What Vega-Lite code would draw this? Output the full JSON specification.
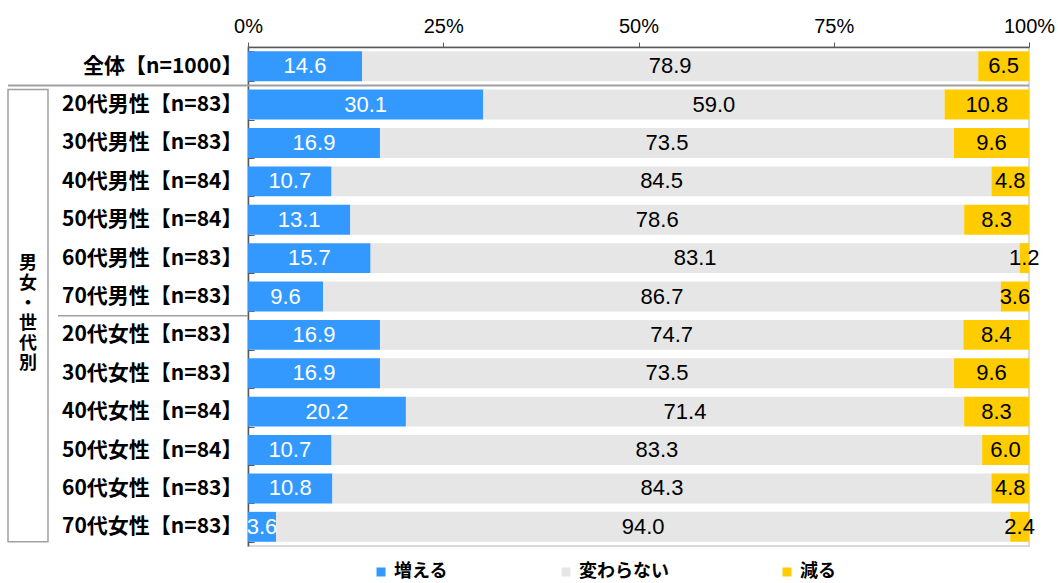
{
  "$schema": "https://vega.github.io/schema/vega-lite/v6.json",
  "autosize": {"type": "none"},
  "padding": {"left": 248, "top": 47, "right": 29, "bottom": 37},
  "width": 781,
  "height": 499,
  "config": {
    "view": {"stroke": "#d9d9d9", "strokeWidth": 2},
    "font": "Noto Sans CJK JP"
  },
  "datasets": {
    "bars": [
      {"label": "全体【n=1000】", "cat": "増える", "v": 14.6},
      {"label": "全体【n=1000】", "cat": "変わらない", "v": 78.9},
      {"label": "全体【n=1000】", "cat": "減る", "v": 6.5},
      {"label": "20代男性【n=83】", "cat": "増える", "v": 30.1},
      {"label": "20代男性【n=83】", "cat": "変わらない", "v": 59.0},
      {"label": "20代男性【n=83】", "cat": "減る", "v": 10.8},
      {"label": "30代男性【n=83】", "cat": "増える", "v": 16.9},
      {"label": "30代男性【n=83】", "cat": "変わらない", "v": 73.5},
      {"label": "30代男性【n=83】", "cat": "減る", "v": 9.6},
      {"label": "40代男性【n=84】", "cat": "増える", "v": 10.7},
      {"label": "40代男性【n=84】", "cat": "変わらない", "v": 84.5},
      {"label": "40代男性【n=84】", "cat": "減る", "v": 4.8},
      {"label": "50代男性【n=84】", "cat": "増える", "v": 13.1},
      {"label": "50代男性【n=84】", "cat": "変わらない", "v": 78.6},
      {"label": "50代男性【n=84】", "cat": "減る", "v": 8.3},
      {"label": "60代男性【n=83】", "cat": "増える", "v": 15.7},
      {"label": "60代男性【n=83】", "cat": "変わらない", "v": 83.1},
      {"label": "60代男性【n=83】", "cat": "減る", "v": 1.2},
      {"label": "70代男性【n=83】", "cat": "増える", "v": 9.6},
      {"label": "70代男性【n=83】", "cat": "変わらない", "v": 86.7},
      {"label": "70代男性【n=83】", "cat": "減る", "v": 3.6},
      {"label": "20代女性【n=83】", "cat": "増える", "v": 16.9},
      {"label": "20代女性【n=83】", "cat": "変わらない", "v": 74.7},
      {"label": "20代女性【n=83】", "cat": "減る", "v": 8.4},
      {"label": "30代女性【n=83】", "cat": "増える", "v": 16.9},
      {"label": "30代女性【n=83】", "cat": "変わらない", "v": 73.5},
      {"label": "30代女性【n=83】", "cat": "減る", "v": 9.6},
      {"label": "40代女性【n=84】", "cat": "増える", "v": 20.2},
      {"label": "40代女性【n=84】", "cat": "変わらない", "v": 71.4},
      {"label": "40代女性【n=84】", "cat": "減る", "v": 8.3},
      {"label": "50代女性【n=84】", "cat": "増える", "v": 10.7},
      {"label": "50代女性【n=84】", "cat": "変わらない", "v": 83.3},
      {"label": "50代女性【n=84】", "cat": "減る", "v": 6.0},
      {"label": "60代女性【n=83】", "cat": "増える", "v": 10.8},
      {"label": "60代女性【n=83】", "cat": "変わらない", "v": 84.3},
      {"label": "60代女性【n=83】", "cat": "減る", "v": 4.8},
      {"label": "70代女性【n=83】", "cat": "増える", "v": 3.6},
      {"label": "70代女性【n=83】", "cat": "変わらない", "v": 94.0},
      {"label": "70代女性【n=83】", "cat": "減る", "v": 2.4}
    ],
    "groups": [
      {"first": "20代男性【n=83】", "split": "20代女性【n=83】", "last": "70代女性【n=83】", "name": "男\n女\n・\n世\n代\n別"}
    ]
  },
  "layer": [
    {
      "data": {"name": "bars"},
      "mark": {"type": "bar"},
      "encoding": {
        "y": {
          "field": "label", "type": "nominal",
          "sort": ["全体【n=1000】", "20代男性【n=83】", "30代男性【n=83】", "40代男性【n=84】", "50代男性【n=84】", "60代男性【n=83】", "70代男性【n=83】", "20代女性【n=83】", "30代女性【n=83】", "40代女性【n=84】", "50代女性【n=84】", "60代女性【n=83】", "70代女性【n=83】"],
          "scale": {
            "domain": ["全体【n=1000】", "20代男性【n=83】", "30代男性【n=83】", "40代男性【n=84】", "50代男性【n=84】", "60代男性【n=83】", "70代男性【n=83】", "20代女性【n=83】", "30代女性【n=83】", "40代女性【n=84】", "50代女性【n=84】", "60代女性【n=83】", "70代女性【n=83】"],
            "paddingInner": 0.22, "paddingOuter": 0.11
          },
          "axis": {
            "title": null, "domainColor": "#595959", "domainWidth": 1.5,
            "ticks": true, "tickBand": "extent", "tickSize": -6, "tickColor": "#595959",
            "labelFont": "Noto Sans CJK JP", "labelFontWeight": "bold", "labelFontSize": 21,
            "labelColor": "#000000", "labelPadding": 12, "labelLimit": 0
          }
        },
        "x": {
          "field": "v", "type": "quantitative", "stack": "normalize",
          "scale": {"domain": [0, 1]},
          "axis": {
            "title": null, "orient": "top", "values": [0, 0.25, 0.5, 0.75, 1], "format": ".0%",
            "grid": false, "labelFlush": false, "domainColor": "#595959", "domainWidth": 1.5,
            "tickColor": "#595959", "tickSize": 5,
            "labelFont": "Liberation Sans", "labelFontSize": 20, "labelColor": "#000000", "labelPadding": 6
          }
        },
        "color": {
          "field": "cat", "type": "nominal",
          "scale": {"domain": ["増える", "変わらない", "減る"], "range": ["#3399FF", "#E6E6E6", "#FFCC00"]},
          "legend": {
            "orient": "none", "legendX": 124, "legendY": 516, "direction": "horizontal",
            "title": null, "symbolType": "square", "symbolSize": 81, "symbolStrokeWidth": 0,
            "labelFont": "Noto Sans CJK JP", "labelFontWeight": "bold", "labelFontSize": 18,
            "labelColor": "#000000", "labelOffset": 4, "columnPadding": 109
          }
        },
        "order": {"field": "cat", "sort": "ascending"}
      }
    },
    {
      "data": {"name": "bars"},
      "mark": {"type": "text", "font": "Liberation Sans", "fontSize": 22, "baseline": "middle", "align": "center"},
      "encoding": {
        "y": {"field": "label", "type": "nominal", "title": null,
          "sort": ["全体【n=1000】", "20代男性【n=83】", "30代男性【n=83】", "40代男性【n=84】", "50代男性【n=84】", "60代男性【n=83】", "70代男性【n=83】", "20代女性【n=83】", "30代女性【n=83】", "40代女性【n=84】", "50代女性【n=84】", "60代女性【n=83】", "70代女性【n=83】"]},
        "x": {"field": "v", "type": "quantitative", "stack": "normalize", "bandPosition": 0.5, "title": null},
        "detail": {"field": "cat"},
        "order": {"field": "cat", "sort": "ascending"},
        "text": {"field": "v", "type": "quantitative", "format": ".1f"},
        "color": {"condition": {"test": "datum.cat === '増える'", "value": "#FFFFFF"}, "value": "#000000"}
      }
    },
    {
      "data": {"name": "groups"},
      "mark": {"type": "rule", "color": "#a0a0a0", "strokeWidth": 2},
      "encoding": {
        "y": {"field": "first", "type": "nominal", "bandPosition": -0.141, "title": null,
          "sort": ["全体【n=1000】", "20代男性【n=83】", "30代男性【n=83】", "40代男性【n=84】", "50代男性【n=84】", "60代男性【n=83】", "70代男性【n=83】", "20代女性【n=83】", "30代女性【n=83】", "40代女性【n=84】", "50代女性【n=84】", "60代女性【n=83】", "70代女性【n=83】"]},
        "x": {"datum": -0.3073, "type": "quantitative", "title": null},
        "x2": {"datum": 1.0}
      }
    },
    {
      "data": {"name": "groups"},
      "mark": {"type": "rule", "color": "#a0a0a0", "strokeWidth": 1.5},
      "encoding": {
        "y": {"field": "split", "type": "nominal", "bandPosition": -0.141, "title": null,
          "sort": ["全体【n=1000】", "20代男性【n=83】", "30代男性【n=83】", "40代男性【n=84】", "50代男性【n=84】", "60代男性【n=83】", "70代男性【n=83】", "20代女性【n=83】", "30代女性【n=83】", "40代女性【n=84】", "50代女性【n=84】", "60代女性【n=83】", "70代女性【n=83】"]},
        "x": {"datum": -0.2433, "type": "quantitative", "title": null},
        "x2": {"datum": 0}
      }
    },
    {
      "data": {"name": "groups"},
      "mark": {"type": "rect", "fill": null, "fillOpacity": 0, "stroke": "#a0a0a0", "strokeWidth": 1.5},
      "encoding": {
        "y": {"field": "first", "type": "nominal", "bandPosition": 0, "title": null,
          "sort": ["全体【n=1000】", "20代男性【n=83】", "30代男性【n=83】", "40代男性【n=84】", "50代男性【n=84】", "60代男性【n=83】", "70代男性【n=83】", "20代女性【n=83】", "30代女性【n=83】", "40代女性【n=84】", "50代女性【n=84】", "60代女性【n=83】", "70代女性【n=83】"]},
        "y2": {"field": "last", "bandPosition": 1},
        "x": {"datum": -0.3073, "type": "quantitative", "title": null},
        "x2": {"datum": -0.2561}
      }
    },
    {
      "data": {"name": "groups"},
      "mark": {"type": "text", "font": "Noto Sans CJK JP", "fontWeight": "bold", "fontSize": 18, "lineBreak": "\n", "lineHeight": 20, "baseline": "middle", "align": "center", "color": "#000000"},
      "encoding": {
        "y": {"field": "split", "type": "nominal", "bandPosition": -1.867, "title": null,
          "sort": ["全体【n=1000】", "20代男性【n=83】", "30代男性【n=83】", "40代男性【n=84】", "50代男性【n=84】", "60代男性【n=83】", "70代男性【n=83】", "20代女性【n=83】", "30代女性【n=83】", "40代女性【n=84】", "50代女性【n=84】", "60代女性【n=83】", "70代女性【n=83】"]},
        "x": {"datum": -0.2817, "type": "quantitative", "title": null},
        "text": {"field": "name"}
      }
    }
  ]
}
